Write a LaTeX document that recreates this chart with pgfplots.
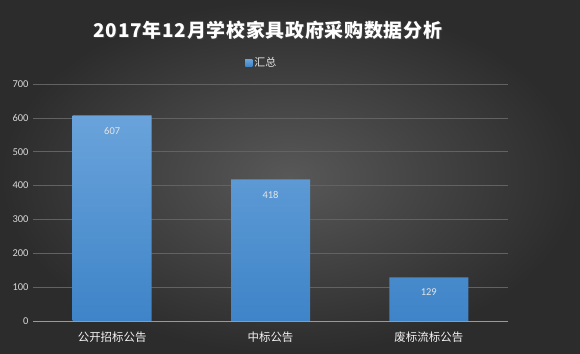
\documentclass[border=0pt]{standalone}
\usepackage{fontspec}
\setmainfont{Carlito}
\newfontfamily\cjk{Noto Sans CJK SC}
\newfontfamily\cjktitle[LetterSpace=4]{Noto Sans CJK SC}
\usepackage{pgfplots}
\pgfplotsset{compat=1.18}
\definecolor{bgin}{RGB}{88,88,88}
\definecolor{bgout}{RGB}{44,44,44}
\definecolor{bartop}{RGB}{106,163,219}
\definecolor{barbot}{RGB}{62,132,200}
\definecolor{legc}{RGB}{85,150,218}
\definecolor{gridc}{RGB}{98,98,98}
\definecolor{tickc}{RGB}{217,217,217}
\begin{document}
\begin{tikzpicture}
\shade[inner color=bgin, outer color=bgout] (0,0) rectangle (580bp,354bp);
\node[text=black!75, font=\cjktitle\bfseries\fontsize{19}{22}\selectfont] at (269bp,323bp) {2017年12月学校家具政府采购数据分析};
\node[text=white, font=\cjktitle\bfseries\fontsize{19}{22}\selectfont] at (268bp,324bp) {2017年12月学校家具政府采购数据分析};
\begin{axis}[
  at={(33bp,33bp)}, anchor=south west,
  scale only axis, width=475bp, height=237bp,
  ymin=0, ymax=700, ytick={0,100,...,700},
  xmin=-0.5, xmax=2.5,
  xtick=data,
  xticklabels={公开招标公告,中标公告,废标流标公告},
  ybar, bar width=79bp,
  separate axis lines,
  axis x line*=bottom, axis y line*=left,
  y axis line style={draw=none},
  x axis line style={draw=gray!80, line width=0.8pt},
  major tick length=0,
  ymajorgrids, major grid style={draw=gridc, line width=0.6pt},
  /pgf/number format/assume math mode=true,
  yticklabel style={text=tickc, font=\fontsize{10.5}{12}\selectfont, anchor=east, xshift=-1bp},
  xticklabel style={text=white!95!black, font=\cjk\fontsize{11.5}{13}\selectfont, yshift=-7bp},
  nodes near coords,
  every node near coord/.append style={text=white!90!black, font=\fontsize{10.5}{12}\selectfont, anchor=north, yshift=-8bp},
  legend style={at={(0.482,1.089)}, anchor=center, draw=none, fill=none, text=white!90!black, font=\cjk\fontsize{11}{13}\selectfont},
  legend image code/.code={\fill[legc] (0bp,-3.5bp) rectangle (7bp,3.5bp);},
]
\addplot[draw=none, top color=bartop, bottom color=barbot] coordinates {(0,607) (1,418) (2,129)};
\addlegendentry{汇总}
\end{axis}
\end{tikzpicture}
\end{document}
